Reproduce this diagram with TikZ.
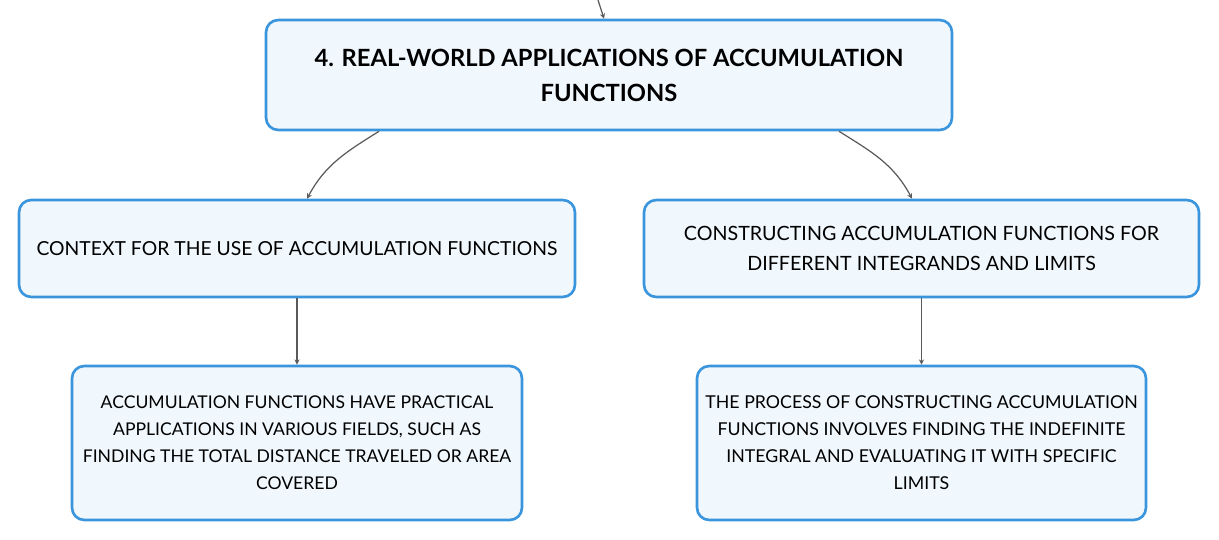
\documentclass[tikz,border=0pt]{standalone}
\usepackage{fontspec}
\setmainfont{Lato}
\usetikzlibrary{arrows.meta,calc}
\definecolor{boxline}{HTML}{3A95DD}
\definecolor{boxfill}{HTML}{F0F7FD}
\definecolor{linkgray}{HTML}{5A5A5A}
\tikzset{
	topic/.style={draw=boxline,fill=boxfill,line width=1.5pt,rounded corners=7pt,align=center,inner sep=2pt},
	link/.style={draw=linkgray,line width=0.7pt,-{Stealth[length=3pt,width=3pt]}}
}
\begin{document}
\begin{tikzpicture}
	\useasboundingbox (0,0) rectangle (24.38,-10.8);
	\node[topic,minimum width=13.72cm,minimum height=2.2cm,font=\fontsize{13.5}{20}\selectfont\bfseries] (title) at (12.18,-1.5)
		{4. REAL-WORLD APPLICATIONS OF ACCUMULATION\\FUNCTIONS};
	\node[topic,minimum width=11.12cm,minimum height=1.94cm,font=\fontsize{11}{15.4}\selectfont] (ctx) at (5.94,-4.97)
		{CONTEXT FOR THE USE OF ACCUMULATION FUNCTIONS};
	\node[topic,minimum width=11.1cm,minimum height=1.94cm,font=\fontsize{11.2}{17}\selectfont] (constr) at (18.43,-4.97)
		{CONSTRUCTING ACCUMULATION FUNCTIONS FOR\\DIFFERENT INTEGRANDS AND LIMITS};
	\node[topic,minimum width=9cm,minimum height=3.08cm,font=\fontsize{10}{15.4}\selectfont] (ctxdesc) at (5.94,-8.86)
		{ACCUMULATION FUNCTIONS HAVE PRACTICAL\\APPLICATIONS IN VARIOUS FIELDS, SUCH AS\\FINDING THE TOTAL DISTANCE TRAVELED OR AREA\\COVERED};
	\node[topic,minimum width=8.98cm,minimum height=3.08cm,font=\fontsize{10.1}{15.4}\selectfont] (constrdesc) at (18.43,-8.86)
		{THE PROCESS OF CONSTRUCTING ACCUMULATION\\FUNCTIONS INVOLVES FINDING THE INDEFINITE\\INTEGRAL AND EVALUATING IT WITH SPECIFIC\\LIMITS};
	\coordinate (up) at (11.96,0);
	% connectors
	\draw[link] (up) -- ($(title.north)+(-0.1,0)$);
	\draw[link] ($(title.south west)!0.166!(title.south east)$) to[out=212,in=62] ($(ctx.north west)!0.518!(ctx.north east)$);
	\draw[link] ($(title.south west)!0.834!(title.south east)$) to[out=-32,in=118] ($(constr.north west)!0.483!(constr.north east)$);
	\draw[link] (ctx) -- (ctxdesc);
	\draw[link] (constr) -- (constrdesc);
\end{tikzpicture}
\end{document}
